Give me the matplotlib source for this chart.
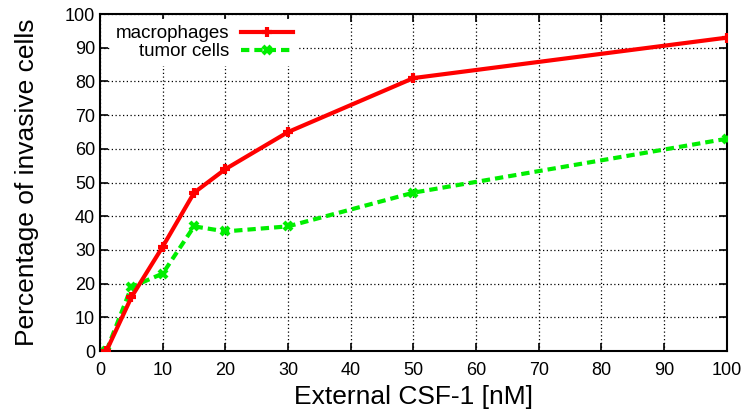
import matplotlib
matplotlib.use("Agg")
import matplotlib.pyplot as plt

plt.rcParams["font.family"] = ["Liberation Sans", "DejaVu Sans"]

csf = [1, 5, 10, 15, 20, 30, 50, 100]
macrophages = [0, 16, 31, 47, 54, 65, 81, 93]
tumor_cells = [0, 19, 23, 37, 35.5, 37, 47, 63]

fig = plt.figure(figsize=(7.47, 4.13), dpi=100)
ax = fig.add_axes([0.134, 0.150, 0.839, 0.816])

ax.plot(csf, macrophages, color="#ff0000", lw=3, marker="+", ms=7, mew=3,
        label="macrophages", zorder=4)
ax.plot(csf, tumor_cells, color="#00ee00", lw=3, ls=(0, (2, 1.2)), marker="x",
        ms=6, mew=3, label="tumor cells", zorder=3)

ax.set_xlim(0, 100)
ax.set_ylim(0, 100)
ax.set_xticks(range(0, 101, 10))
ax.set_yticks(range(0, 101, 10))
ax.grid(True, color="black", ls=(0, (1, 2)), lw=0.9)
ax.set_axisbelow(True)
ax.tick_params(direction="in", top=True, right=True, length=6, width=1.2,
               labelsize=13)
ax.tick_params(axis="x", pad=8)
for s in ax.spines.values():
    s.set_linewidth(1.5)

ax.set_xlabel("External CSF-1 [nM]", fontsize=19, labelpad=4)
ax.set_ylabel("Percentage of invasive cells", fontsize=19, labelpad=19)

# gnuplot style key: labels right-aligned, sample line to the right,
# white box hides the grid behind it
leg = ax.legend(loc="upper right", frameon=True, markerfirst=False,
                fontsize=13.5, handlelength=2.8, handletextpad=0.6,
                borderaxespad=0, borderpad=0.3, labelspacing=0.05,
                fancybox=False, facecolor="white", edgecolor="none",
                framealpha=1, bbox_to_anchor=(0.317, 0.984))
leg.set_zorder(2.5)

fig.savefig("out.png", dpi=100)
